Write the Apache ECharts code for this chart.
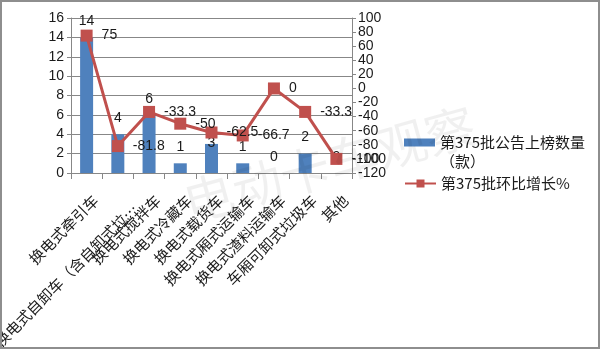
<!DOCTYPE html>
<html>
<head>
<meta charset="utf-8">
<script src="https://cdn.jsdelivr.net/npm/echarts@6/dist/echarts.min.js"></script>
<style>
  html, body { margin: 0; padding: 0; background: #fff; }
  #chart { width: 600px; height: 349px; box-sizing: border-box; border: 2px solid #8e8e8e; }
</style>
</head>
<body>
<div id="chart"></div>
<script>
// Vehicle categories in batch 375 of the announcement
const categories = [
  '换电式牵引车',
  '换电式自卸车（含自卸式垃…',
  '换电式搅拌车',
  '换电式冷藏车',
  '换电式载货车',
  '换电式厢式运输车',
  '换电式渣料运输车',
  '车厢可卸式垃圾车',
  '其他'
];
// Number of listed models per category
const listedCount = [14, 4, 6, 1, 3, 1, 0, 2, 0];
// Change versus previous batch, %
const changePct = [75, -81.8, -33.3, -50, -62.5, -66.7, 0, -33.3, -100];

const countName = '第375批公告上榜数量\n（款）';
const changeName = '第375批环比增长%';

const numFont = 'Liberation Sans, Arial, sans-serif';
const cjkFont = 'Noto Sans CJK SC, sans-serif';
const gridGray = '#878787';
const textColor = '#1a1a1a';

const chart = echarts.init(document.getElementById('chart'), null, { renderer: 'canvas' });

// the label of the fifth bar rests on the bar top
const barData = listedCount.map((v, i) =>
  i === 4 ? { value: v, label: { distance: -6 } } : v
);

const legendText = { fontSize: 15, color: textColor, fontFamily: cjkFont, lineHeight: 19 };
const catText = { fontSize: 15, color: textColor, fontFamily: cjkFont };

chart.setOption({
  backgroundColor: '#fff',
  animation: false,
  graphic: [{
    type: 'text',
    left: 176,
    top: 98,
    rotation: 0.27,
    z: 100,
    silent: true,
    style: {
      text: '电动卡车观察',
      font: '50px ' + cjkFont,
      fill: 'rgba(0,0,0,0.06)'
    }
  }],
  grid: {
    left: 69, right: 246, top: 16, bottom: 174,
    outerBoundsMode: 'none', containLabel: false
  },
  legend: [{
    orient: 'vertical',
    left: 397,
    top: 107,
    itemWidth: 31,
    itemHeight: 8,
    selectedMode: false,
    // an empty leading line keeps the swatch level with the first text line
    formatter: name => ' \n' + name,
    textStyle: legendText,
    data: [{ name: countName, icon: 'rect' }]
  }, {
    orient: 'vertical',
    left: 397,
    top: 167,
    itemWidth: 31,
    itemHeight: 10,
    selectedMode: false,
    textStyle: legendText,
    data: [changeName]
  }],
  xAxis: {
    type: 'category',
    data: categories,
    axisLine: { lineStyle: { color: gridGray, width: 1 } },
    axisTick: { show: true, alignWithLabel: false, length: 6, lineStyle: { color: gridGray } },
    axisLabel: Object.assign({
      interval: 0,
      rotate: 45,
      margin: 16,
      verticalAlign: 'top',
      lineHeight: 25,
      // the truncated long label sits a little further from the axis
      formatter: (value, index) => index === 1 ? '{far|' + value + '}' : value,
      rich: { far: Object.assign({ lineHeight: 49 }, catText) }
    }, catText)
  },
  yAxis: [{
    type: 'value',
    min: 0, max: 16, interval: 2,
    axisLine: { show: true, lineStyle: { color: gridGray } },
    axisTick: { show: true, length: 4, lineStyle: { color: gridGray } },
    splitLine: { show: true, lineStyle: { color: gridGray, width: 1 } },
    axisLabel: { fontSize: 14, color: textColor, fontFamily: numFont, margin: 7 }
  }, {
    type: 'value',
    min: -120, max: 100, interval: 20,
    axisLine: { show: true, lineStyle: { color: gridGray } },
    axisTick: { show: true, length: 4, lineStyle: { color: gridGray } },
    splitLine: { show: false },
    axisLabel: { fontSize: 14, color: textColor, fontFamily: numFont, margin: 6 }
  }],
  series: [{
    name: countName,
    type: 'bar',
    data: barData,
    barWidth: 13,
    itemStyle: { color: '#4F81BD' },
    label: {
      show: true, position: 'top', distance: 9,
      fontSize: 14, color: textColor, fontFamily: numFont
    }
  }, {
    name: changeName,
    type: 'line',
    yAxisIndex: 1,
    data: changePct,
    symbol: 'rect',
    symbolSize: 12,
    lineStyle: { color: '#C0504D', width: 3 },
    itemStyle: { color: '#C0504D' },
    label: {
      show: true, position: 'right', distance: 9,
      fontSize: 14, color: textColor, fontFamily: numFont
    },
    z: 3
  }]
});
</script>
</body>
</html>
